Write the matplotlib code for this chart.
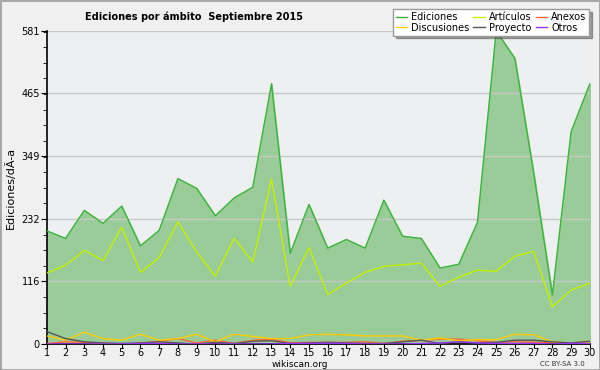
import numpy as np
import matplotlib.pyplot as plt
from matplotlib.ticker import AutoMinorLocator

# dias del mes
dias = list(range(1, 31))

# series
ediciones = [210, 196, 248, 224, 256, 182, 211, 307, 289, 238, 271, 291, 483, 168, 259,
             178, 194, 178, 267, 200, 196, 141, 148, 226, 581, 530, 318, 91, 394, 483]
articulos = [132, 146, 174, 155, 217, 133, 160, 227, 171, 126, 196, 152, 306, 107, 179,
             92, 113, 133, 144, 147, 150, 107, 124, 137, 135, 163, 172, 69, 100, 113]
anexos = [1, 4, 3, 1, 0, 1, 5, 10, 2, 7, 1, 7, 9, 2, 3,
          3, 3, 4, 1, 5, 7, 9, 9, 6, 3, 4, 3, 3, 2, 4]
discusiones = [15, 7, 22, 10, 7, 18, 7, 10, 18, 4, 18, 14, 10, 10, 17,
               18, 17, 15, 15, 15, 7, 11, 6, 8, 8, 18, 17, 4, 2, 3]
proyecto = [23, 10, 4, 2, 1, 2, 4, 2, 0, 3, 1, 5, 6, 1, 2,
            3, 2, 1, 1, 4, 7, 1, 4, 2, 3, 7, 7, 4, 2, 5]
otros = [0, 0, 0, 0, 0, 1, 1, 0, 0, 0, 0, 0, 0, 1, 1,
         1, 1, 0, 0, 0, 1, 2, 4, 2, 1, 1, 1, 0, 1, 1]

yticks = [0, 116, 232, 349, 465, 581]

fig = plt.figure(figsize=(6, 3.7), dpi=100, facecolor='#f0f0f0',
                 edgecolor='#a8a8a8', linewidth=2)
ax = fig.add_axes([0.078, 0.0703, 0.905, 0.846])
ax.set_facecolor('#eeeff1')

ax.fill_between(dias, ediciones, 0, color='#99cc99', zorder=1)
l1, = ax.plot(dias, ediciones, color='#3cb43c', lw=1, zorder=3)
l2, = ax.plot(dias, articulos, color='#c4f000', lw=1, zorder=3)
l3, = ax.plot(dias, anexos, color='#ff6633', lw=1, zorder=3)
l4, = ax.plot(dias, discusiones, color='#ffcc00', lw=1, zorder=3)
l5, = ax.plot(dias, proyecto, color='#555555', lw=1, zorder=3)
l6, = ax.plot(dias, otros, color='#9933ff', lw=1, zorder=3)

ax.set_xlim(1, 30)
ax.set_ylim(0, 581)
ax.set_xticks(dias)
ax.set_yticks(yticks)
ax.yaxis.set_minor_locator(AutoMinorLocator(4))
ax.grid(axis='y', color='#c8c8c8', lw=1, zorder=2)
ax.tick_params(axis='both', labelsize=7, length=4, direction='out', color='black')
ax.tick_params(axis='y', which='minor', length=3)
ax.tick_params(axis='x', pad=0, length=3)
ax.tick_params(axis='y', pad=1)
for s in ['top', 'right']:
    ax.spines[s].set_visible(False)
ax.spines['bottom'].set_linewidth(1.2)
ax.spines['left'].set_linewidth(1.2)

ax.set_ylabel('Ediciones/dÃ-a', fontsize=8, labelpad=4)
fig.text(0.142, 0.955, 'Ediciones por ámbito  Septiembre 2015', fontsize=7.8,
         fontweight='bold', va='center', family='DejaVu Sans', fontstretch='condensed')

leg = ax.legend([l1, l4, l2, l5, l3, l6],
                ['Ediciones', 'Discusiones', 'Artículos', 'Proyecto', 'Anexos', 'Otros'],
                ncol=3, fontsize=7, loc='upper right', bbox_to_anchor=(1.008, 1.085),
                frameon=True, shadow=True, fancybox=False, borderpad=0.3,
                labelspacing=0.05, handlelength=1.2, handletextpad=0.4, columnspacing=0.4)
leg.get_frame().set_edgecolor('#999999')
leg.get_frame().set_facecolor('white')

fig.text(0.5, 0.016, 'wikiscan.org', fontsize=6.5, ha='center', va='center')
fig.text(0.975, 0.016, 'CC BY-SA 3.0', fontsize=5, ha='right', va='center', color='#333333')

fig.savefig('out.png', dpi=100, facecolor=fig.get_facecolor(), edgecolor=fig.get_edgecolor())
